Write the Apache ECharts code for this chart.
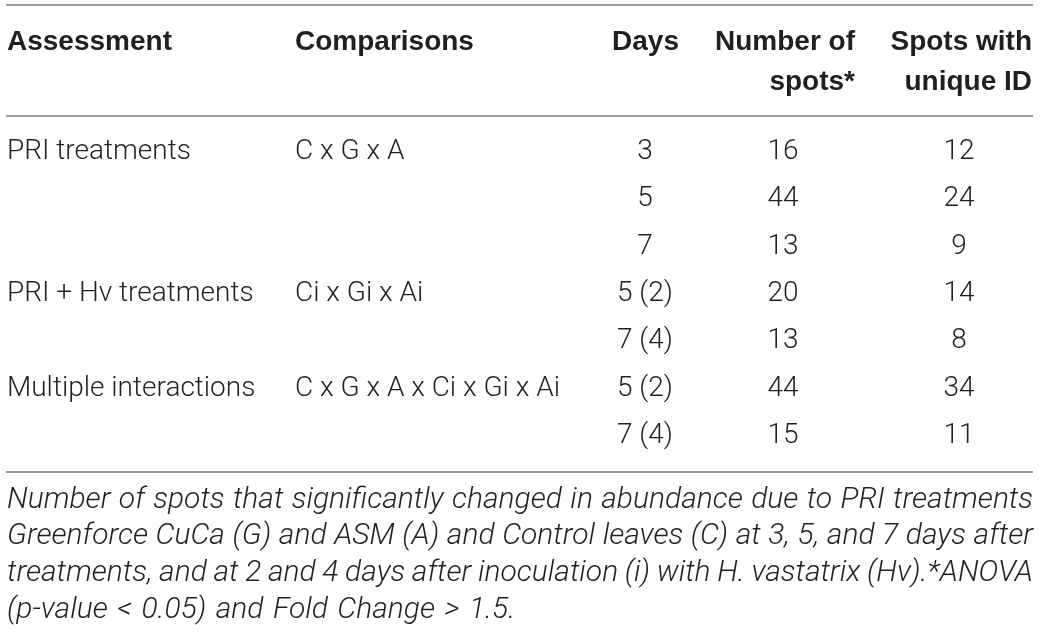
<!DOCTYPE html>
<html>
<head>
<meta charset="utf-8">
<script src="https://cdn.jsdelivr.net/npm/echarts@6/dist/echarts.min.js"></script>
<style>
  html, body { margin: 0; padding: 0; background: #fff; }
  #main { width: 1041px; height: 632px; }
</style>
</head>
<body>
<div id="main"></div>
<script>
// table data
var rowKeys = ['r1', 'r2', 'r3', 'r4', 'r5', 'r6', 'r7'];
var assessment = ['PRI treatments', '', '', 'PRI + Hv treatments', '', 'Multiple interactions', ''];
var comparisons = ['C x G x A', '', '', 'Ci x Gi x Ai', '', 'C x G x A x Ci x Gi x Ai', ''];
var days = ['3', '5', '7', '5 (2)', '7 (4)', '5 (2)', '7 (4)'];
var numberOfSpots = [16, 44, 13, 20, 13, 44, 15];
var uniqueIdSpots = [12, 24, 9, 14, 8, 34, 11];
var headers = ['Assessment', 'Comparisons', 'Days', 'Number of\nspots*', 'Spots with\nunique ID'];
var captionLines = [
  'Number of spots that significantly changed in abundance due to PRI treatments',
  'Greenforce CuCa (G) and ASM (A) and Control leaves (C) at 3, 5, and 7 days after',
  'treatments, and at 2 and 4 days after inoculation (i) with H. vastatrix (Hv).*ANOVA',
  '(p-value < 0.05) and Fold Change > 1.5.'
];

var FONT = 'Roboto, "Liberation Sans", sans-serif';
var HEAD_FONT = '"Liberation Sans", Arial, sans-serif';
var TEXT = '#231f20';
var RULE = '#7d7d7d';

// column anchors (x on the hidden value axis) and alignment
var columns = [
  { cells: assessment, x: 7, align: 'left' },
  { cells: comparisons, x: 295, align: 'left' },
  { cells: days, x: 645, align: 'center' },
  { cells: numberOfSpots, x: 783, align: 'center' },
  { cells: uniqueIdSpots, x: 959, align: 'center' }
];
var headerPos = [
  { x: 7, align: 'left' },
  { x: 295, align: 'left' },
  { x: 679, align: 'right' },
  { x: 855, align: 'right' },
  { x: 1032, align: 'right' }
];

var chart = echarts.init(document.getElementById('main'));

var series = columns.map(function (col) {
  return {
    type: 'custom',
    silent: true,
    data: rowKeys.map(function (k) { return [col.x, k]; }),
    renderItem: function (params, api) {
      var txt = col.cells[params.dataIndex];
      if (txt === '' || txt == null) return null;
      var p = api.coord([api.value(0), api.value(1)]);
      return {
        type: 'text',
        x: p[0],
        y: p[1],
        style: {
          text: String(txt),
          fill: TEXT,
          fontFamily: FONT,
          fontWeight: 300,
          fontSize: 28,
          align: col.align,
          verticalAlign: 'middle'
        }
      };
    }
  };
});

var graphics = [];
[5, 116, 472].forEach(function (y) {
  graphics.push({
    type: 'line',
    shape: { x1: 6, y1: y, x2: 1033, y2: y },
    style: { stroke: RULE, lineWidth: 1.5 }
  });
});
headers.forEach(function (h, i) {
  graphics.push({
    type: 'text',
    x: headerPos[i].x,
    y: 22,
    style: {
      text: h,
      fill: TEXT,
      fontFamily: HEAD_FONT,
      fontWeight: 'bold',
      fontSize: 28,
      lineHeight: 40,
      align: headerPos[i].align,
      verticalAlign: 'top'
    }
  });
});

// justified italic caption
var capLeft = 7, capRight = 1033, capTop = 500, capStep = 36.7;
var capSize = 30;
var ctx = document.createElement('canvas').getContext('2d');
ctx.font = 'italic 300 ' + capSize + 'px ' + FONT;
captionLines.forEach(function (line, li) {
  var words = line.split(' ');
  var widths = words.map(function (w) { return ctx.measureText(w).width; });
  var total = widths.reduce(function (a, b) { return a + b; }, 0);
  var last = li === captionLines.length - 1;
  var gap = last ? ctx.measureText(' ').width * 1.3 : (capRight - capLeft - total) / (words.length - 1);
  var x = capLeft;
  words.forEach(function (w, wi) {
    graphics.push({
      type: 'text',
      x: x,
      y: capTop + li * capStep,
      style: {
        text: w,
        fill: TEXT,
        fontFamily: FONT,
        fontStyle: 'italic',
        fontWeight: 300,
        fontSize: capSize,
        align: 'left',
        verticalAlign: 'middle'
      }
    });
    x += widths[wi] + gap;
  });
});

var option = {
  backgroundColor: '#fff',
  animation: false,
  grid: { left: 0, right: 0, top: 152, bottom: 196 },
  xAxis: { type: 'value', min: 0, max: 1041, show: false },
  yAxis: { type: 'category', data: rowKeys, inverse: true, boundaryGap: false, show: false },
  series: series,
  graphic: graphics
};

chart.setOption(option);
</script>
</body>
</html>
